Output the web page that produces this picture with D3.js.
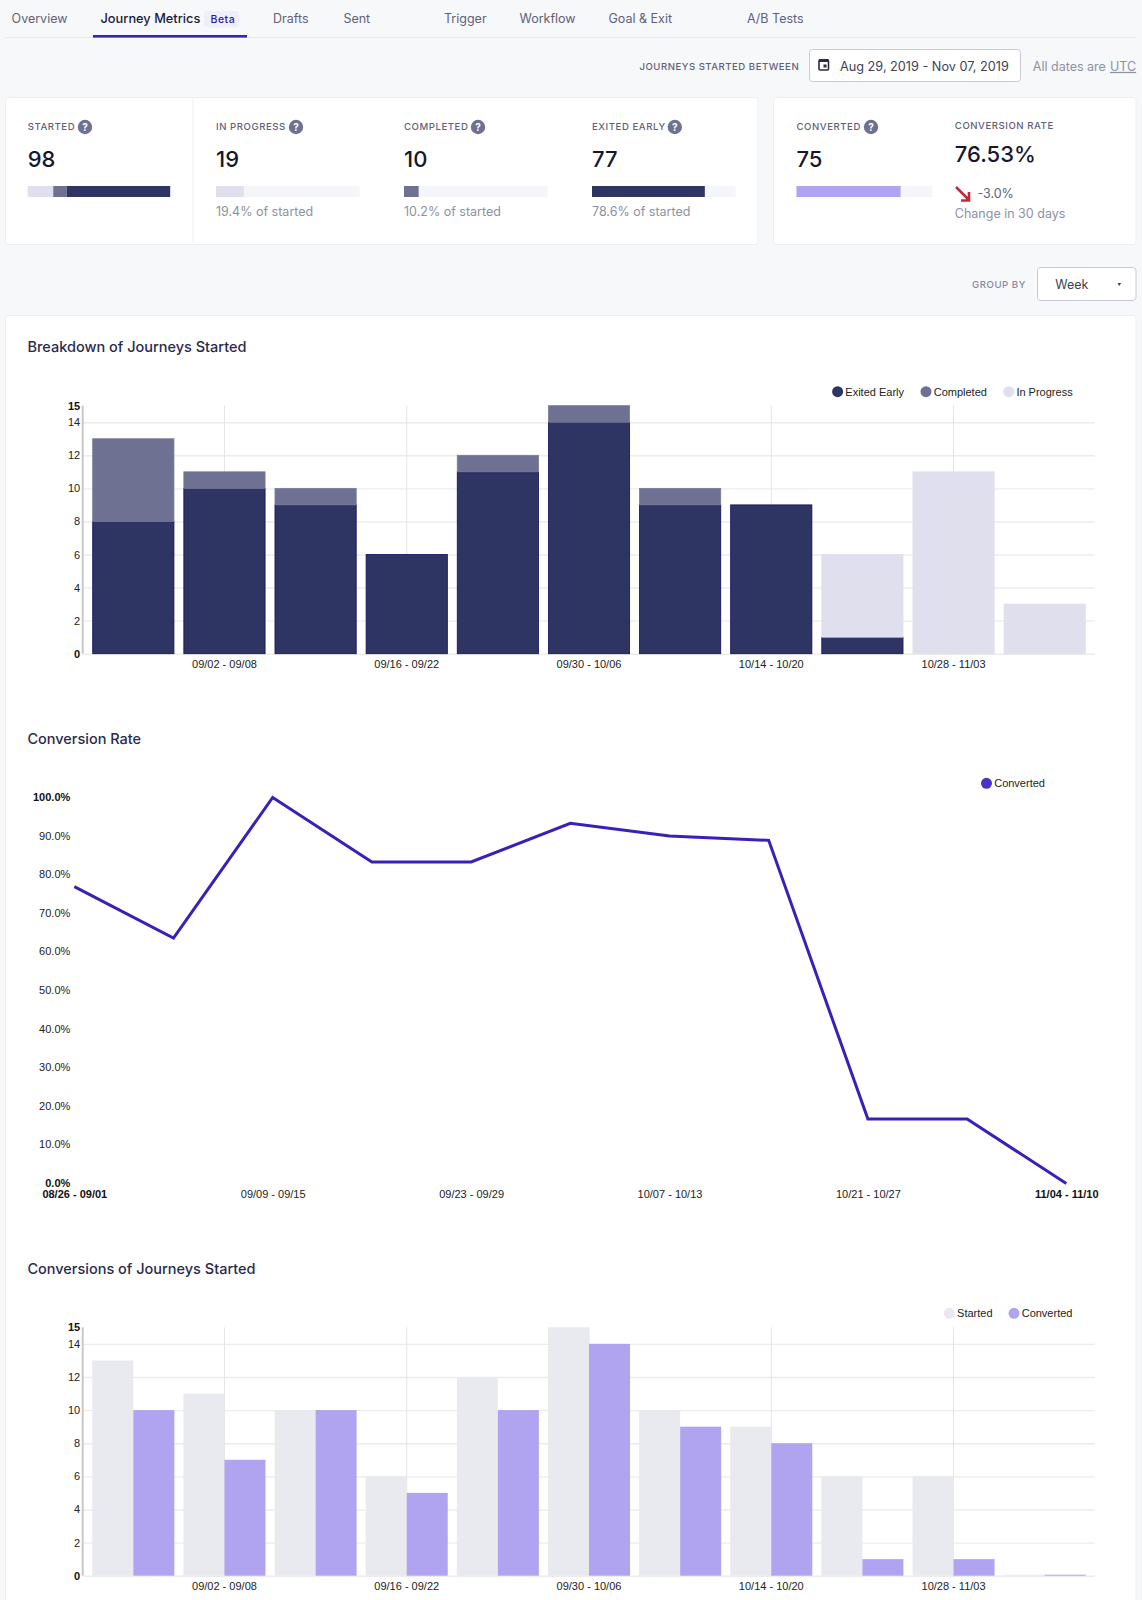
<!DOCTYPE html>
<html lang="en">
<head>
<meta charset="UTF-8">
<title>Journey Metrics</title>
<style>
  html, body { margin: 0; background: #f7f8fa; }
  svg { display: block; }
  text { font-family: Inter, sans-serif; }
  .tab { font-size: 12.5px; fill: #5f6179; }
  .caps { font-size: 9.6px; font-weight: 500; letter-spacing: .55px; fill: #5f6179; }
  .big { font-size: 22px; font-weight: 500; fill: #16162e; }
  .sub { font-size: 12.5px; fill: #8e91a3; }
  .title { font-size: 14.5px; font-weight: 500; fill: #2a2a4c; }
  .chart text, .legend text { font-family: "Liberation Sans", Arial, sans-serif; font-size: 11px; fill: #222; }
  .chart .hi text, text.hi { font-weight: 700; fill: #111; }
  .grid line { stroke: #ececec; stroke-width: 1.4; }
  .vgrid line { stroke: #e4e4e4; stroke-width: 1; }
  .grid path, .vgrid path, .noline path { display: none; }
</style>
</head>
<body>
<svg id="page" width="1142" height="1600"></svg>
<script src="https://d3js.org/d3.v7.min.js"></script>
<script>
// values
var weeks = ["08/26 - 09/01", "09/02 - 09/08", "09/09 - 09/15", "09/16 - 09/22", "09/23 - 09/29", "09/30 - 10/06",
             "10/07 - 10/13", "10/14 - 10/20", "10/21 - 10/27", "10/28 - 11/03", "11/04 - 11/10"];
var exitedEarly = [8, 10, 9, 6, 11, 14, 9, 9, 1, 0, 0];
var completed   = [5, 1, 1, 0, 1, 1, 1, 0, 0, 0, 0];
var inProgress  = [0, 0, 0, 0, 0, 0, 0, 0, 5, 11, 3];
var started     = [13, 11, 10, 6, 12, 15, 10, 9, 6, 6, 0];
var converted   = [10, 7, 10, 5, 10, 14, 9, 8, 1, 1, 0];
var conversionRate = [76.9, 63.6, 100, 83.3, 83.3, 93.3, 90, 88.9, 16.7, 16.7, 0];
var countTicks = [0, 2, 4, 6, 8, 10, 12, 14, 15];
var rateTicks  = [0, 10, 20, 30, 40, 50, 60, 70, 80, 90, 100];
var tabs = ["Overview", "Journey Metrics", "Drafts", "Sent", "Trigger", "Workflow", "Goal & Exit", "A/B Tests"];

var DARK = "#2f3563", MID = "#6e7191", LIGHT = "#dfdfee", PURPLE = "#b0a4f1", GREY = "#e9eaef", INDIGO = "#3a1fb8";

var svg = d3.select("#page");

function txt(parent, x, y, s, cls) {
  return parent.append("text").attr("x", x).attr("y", y).attr("dy", ".35em").attr("class", cls).text(s);
}

function card(x, y, w, h) {
  svg.append("rect").attr("x", x).attr("y", y).attr("width", w).attr("height", h).attr("rx", 3)
    .attr("fill", "#fff").attr("stroke", "#eceef2");
}

function help(x, y) {
  svg.append("circle").attr("cx", x).attr("cy", y).attr("r", 7.2).attr("fill", MID);
  txt(svg, x, y, "?", "").attr("text-anchor", "middle").attr("fill", "#fff")
    .attr("font-size", 10).attr("font-weight", 700);
}

// tabs
var tabX = [11.6, 100.5, 273, 343.4, 444, 519.5, 608.5, 747];
tabs.forEach(function(t, i) {
  txt(svg, tabX[i], 18.5, t, "tab").style("fill", i == 1 ? "#1c1b3a" : null)
    .style("font-size", i == 1 ? "12.8px" : null).style("font-weight", i == 1 ? 500 : null);
});
svg.append("rect").attr("x", 204).attr("y", 11).attr("width", 35).attr("height", 16.5).attr("rx", 3).attr("fill", "#f1eefb");
txt(svg, 210.5, 19, "Beta", "").attr("font-size", 10.5).attr("font-weight", 500).attr("fill", "#2a1b9a").attr("letter-spacing", .5);
svg.append("line").attr("x1", 4.5).attr("x2", 1136).attr("y1", 37.5).attr("y2", 37.5).attr("stroke", "#e9eaef");
svg.append("rect").attr("x", 93).attr("y", 35).attr("width", 154).attr("height", 2.6).attr("fill", INDIGO);

// date range row
txt(svg, 639.5, 66.5, "JOURNEYS STARTED BETWEEN", "caps").style("letter-spacing", ".5px");
svg.append("rect").attr("x", 809.5).attr("y", 49.5).attr("width", 211).attr("height", 32).attr("rx", 3)
  .attr("fill", "#fff").attr("stroke", "#c9cad6");
svg.append("rect").attr("x", 819).attr("y", 60).attr("width", 9.5).attr("height", 10).attr("rx", 1)
  .attr("fill", "none").attr("stroke", "#2a2a44").attr("stroke-width", 1.6);
svg.append("rect").attr("x", 819).attr("y", 59).attr("width", 9.5).attr("height", 3).attr("fill", "#2a2a44");
svg.append("rect").attr("x", 823.5).attr("y", 64.5).attr("width", 3).attr("height", 3).attr("fill", "#2a2a44");
txt(svg, 840, 66.5, "Aug 29, 2019 - Nov 07, 2019", "tab").style("fill", "#3d3f58").style("font-size", "12.7px");
txt(svg, 1032.8, 66.5, "All dates are", "sub");
txt(svg, 1110, 66.5, "UTC", "sub").attr("text-decoration", "underline");

// summary cards
card(5.5, 97.5, 752.5, 147);
card(773.5, 97.5, 362.5, 147);
svg.append("line").attr("x1", 193).attr("x2", 193).attr("y1", 98).attr("y2", 242).attr("stroke", "#eceef2");

var totalExited = d3.sum(exitedEarly), totalCompleted = d3.sum(completed), totalProgress = d3.sum(inProgress);
var totalConverted = 75, totalStarted = 98;

function kpi(label, helpX, value, x, bw) {
  txt(svg, x, 126.5, label, "caps");
  help(helpX, 127);
  svg.append("text").attr("x", x).attr("y", 166.5).attr("class", "big").text(value);
  return d3.scaleLinear().domain([0, 1]).range([x, x + bw]);
}

function meter(s, share, color, note) {
  svg.append("rect").attr("x", s(0)).attr("y", 186).attr("width", s(1) - s(0)).attr("height", 11).attr("fill", "#f5f6f9");
  svg.append("rect").attr("x", s(0)).attr("y", 186).attr("width", s(share) - s(0)).attr("height", 11).attr("fill", color);
  if (note) txt(svg, s(0), 211.5, note, "sub");
}

// the started bar is split on the sum of the three states
var sStarted = kpi("STARTED", 85, totalStarted, 27.7, 142.5);
var stackTotal = totalProgress + totalCompleted + totalExited;
var offset = 0;
[[totalProgress, LIGHT], [totalCompleted, MID], [totalExited, DARK]].forEach(function(d) {
  svg.append("rect").attr("x", sStarted(offset)).attr("y", 186)
    .attr("width", sStarted(d[0] / stackTotal) - sStarted(0)).attr("height", 11).attr("fill", d[1]);
  offset += d[0] / stackTotal;
});

meter(kpi("IN PROGRESS", 296, totalProgress, 216, 143.5), totalProgress / totalStarted, LIGHT, "19.4% of started");
meter(kpi("COMPLETED", 478, totalCompleted, 404, 143.5), totalCompleted / totalStarted, MID, "10.2% of started");
meter(kpi("EXITED EARLY", 674.8, totalExited, 592, 143.6), totalExited / totalStarted, DARK, "78.6% of started");
meter(kpi("CONVERTED", 871, totalConverted, 796.5, 136), totalConverted / totalStarted, PURPLE);

txt(svg, 954.8, 125.5, "CONVERSION RATE", "caps");
svg.append("text").attr("x", 954.8).attr("y", 162.3).attr("class", "big").text("76.53%");
svg.append("path").attr("d", "M956 187L969 200M969 192V200.5H961").attr("fill", "none").attr("stroke", "#c5283d").attr("stroke-width", 2.6);
txt(svg, 977.4, 193.5, "-3.0%", "tab");
txt(svg, 954.8, 213.3, "Change in 30 days", "sub");

// group by
txt(svg, 972, 285, "GROUP BY", "caps").style("fill", "#85889b");
svg.append("rect").attr("x", 1037.5).attr("y", 267.5).attr("width", 98.5).attr("height", 33).attr("rx", 3)
  .attr("fill", "#fff").attr("stroke", "#c9cad6");
txt(svg, 1055.3, 285, "Week", "tab").style("fill", "#3d3f58");
svg.append("path").attr("d", "M1117.5 283h3.6l-1.8 3z").attr("fill", "#3d3f58");

// chart card
svg.append("rect").attr("x", 5.5).attr("y", 315.5).attr("width", 1130.5).attr("height", 1300).attr("rx", 3)
  .attr("fill", "#fff").attr("stroke", "#eceef2");
txt(svg, 27.4, 347, "Breakdown of Journeys Started", "title");
txt(svg, 27.4, 739, "Conversion Rate", "title");
txt(svg, 27.4, 1269, "Conversions of Journeys Started", "title");

function legend(items, y) {
  var g = svg.append("g").attr("class", "legend");
  items.forEach(function(d) {
    g.append("circle").attr("cx", d.cx).attr("cy", y).attr("r", 5.5).attr("fill", d.color);
    txt(g, d.cx + 7.7, y, d.name, "");
  });
}

var LEFT = 83.2, RIGHT = 1094.8;
var x = d3.scaleBand().domain(weeks).range([LEFT, RIGHT]).padding(0.1);
var labelled = weeks.filter(function(d, i) { return i % 2 == 1; });

// grid, axes and the scale shared by both bar charts
function barFrame(top, bottom) {
  var y = d3.scaleLinear().domain([0, 15]).range([bottom, top]);
  var g = svg.append("g").attr("class", "chart");
  g.append("g").attr("class", "grid").attr("transform", "translate(" + LEFT + ",0)")
    .call(d3.axisLeft(y).tickValues(countTicks.filter(function(t) { return t != 15; })).tickSize(-(RIGHT - LEFT)).tickFormat(""));
  g.append("g").attr("class", "vgrid").attr("transform", "translate(0," + bottom + ")")
    .call(d3.axisBottom(x).tickValues(labelled).tickSize(-(bottom - top)).tickFormat(""));
  g.append("g").attr("class", "noline").attr("transform", "translate(" + LEFT + ",0)")
    .call(d3.axisLeft(y).tickValues(countTicks).tickSize(0).tickPadding(3))
    .selectAll(".tick").classed("hi", function(d) { return d == 0 || d == 15; });
  g.append("line").attr("x1", LEFT - .5).attr("x2", LEFT - .5).attr("y1", top).attr("y2", bottom)
    .attr("stroke", "#c8c8c8").attr("stroke-width", 2);
  g.append("g").attr("class", "noline").attr("transform", "translate(0," + bottom + ")")
    .call(d3.axisBottom(x).tickValues(labelled).tickSize(0).tickPadding(7));
  return { y: y, g: g };
}

// stacked breakdown
var f1 = barFrame(405.7, 653.7);
var rows = weeks.map(function(w, i) { return { week: w, exited: exitedEarly[i], completed: completed[i], progress: inProgress[i] }; });
var layers = d3.stack().keys(["exited", "completed", "progress"])(rows);
var fills = { exited: DARK, completed: MID, progress: LIGHT };
var strokes = { exited: "#0e0e5e", completed: "#777a99", progress: LIGHT };
f1.g.selectAll("g.layer").data(layers).enter().append("g").attr("class", "layer")
  .selectAll("rect").data(function(l) {
    return l.filter(function(d) { return d[1] > d[0]; }).map(function(d) { return { d: d, key: l.key }; });
  }).enter().append("rect")
  .attr("x", function(p) { return x(p.d.data.week) + .4; })
  .attr("width", x.bandwidth() - .8)
  .attr("y", function(p) { return f1.y(p.d[1]); })
  .attr("height", function(p) { return f1.y(p.d[0]) - f1.y(p.d[1]); })
  .attr("fill", function(p) { return fills[p.key]; })
  .attr("stroke", function(p) { return strokes[p.key]; })
  .attr("stroke-width", .8);
legend([{ name: "Exited Early", color: DARK, cx: 837.6 }, { name: "Completed", color: MID, cx: 926 }, { name: "In Progress", color: LIGHT, cx: 1008.7 }], 391.7);

// conversion rate line
var xp = d3.scalePoint().domain(weeks).range([74.3, 1066.3]);
var yr = d3.scaleLinear().domain([0, 100]).range([1183.5, 797.5]);
var lc = svg.append("g").attr("class", "chart");
lc.append("g").attr("class", "noline").attr("transform", "translate(74.3,-.5)")
  .call(d3.axisLeft(yr).tickValues(rateTicks).tickSize(0).tickPadding(4).tickFormat(function(d) { return d.toFixed(1) + "%"; }))
  .selectAll(".tick").classed("hi", function(d) { return d == 0 || d == 100; });
lc.append("g").attr("class", "noline").attr("transform", "translate(0,1183.5)")
  .call(d3.axisBottom(xp).tickValues(weeks.filter(function(d, i) { return i % 2 == 0; })).tickSize(0).tickPadding(7))
  .selectAll(".tick").classed("hi", function(d) { return d == weeks[0] || d == weeks[10]; });
lc.append("path").datum(conversionRate)
  .attr("d", d3.line().x(function(d, i) { return xp(weeks[i]); }).y(function(d) { return yr(d); }))
  .attr("fill", "none").attr("stroke", INDIGO).attr("stroke-width", 3);
legend([{ name: "Converted", color: "#4a33c4", cx: 986.5 }], 783.3);

// grouped conversions, an empty week still shows a hairline
var f3 = barFrame(1327.3, 1575.7);
var x1 = d3.scaleBand().domain(["started", "converted"]).range([0, x.bandwidth()]);
[["started", started, GREY], ["converted", converted, PURPLE]].forEach(function(s) {
  f3.g.append("g").selectAll("rect").data(s[1]).enter().append("rect")
    .attr("x", function(d, i) { return x(weeks[i]) + x1(s[0]); })
    .attr("width", x1.bandwidth())
    .attr("y", function(d) { return Math.min(f3.y(d), f3.y(0) - 1); })
    .attr("height", function(d) { return Math.max(f3.y(0) - f3.y(d), 1); })
    .attr("fill", s[2]);
});
legend([{ name: "Started", color: GREY, cx: 949.4 }, { name: "Converted", color: PURPLE, cx: 1014 }], 1313.3);
</script>
</body>
</html>
